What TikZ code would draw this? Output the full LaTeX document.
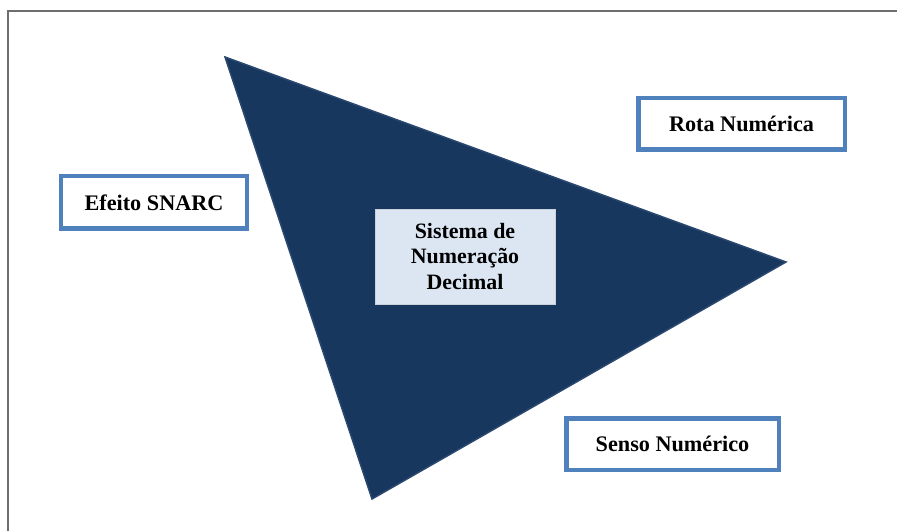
\documentclass[tikz,border=0pt]{standalone}
\usepackage{fontspec}
\setmainfont{Liberation Serif}
\definecolor{navy}{HTML}{17375E}
\definecolor{navyedge}{HTML}{2A4870}
\definecolor{boxblue}{HTML}{4F81BD}
\definecolor{paleblue}{HTML}{DCE6F2}
\definecolor{framegray}{HTML}{6E6E6E}
\begin{document}
\begin{tikzpicture}[x=1bp,y=-1bp,
  outerbox/.style={draw=boxblue,line width=4.5bp,fill=white,align=center,
    font=\fontsize{22.3}{25.5}\selectfont\bfseries,inner sep=0pt},
  centerbox/.style={draw=paleblue!80!gray,line width=0.6bp,fill=paleblue,align=center,
    font=\fontsize{22}{25.5}\selectfont\bfseries,inner sep=0pt,
    minimum width=180bp,minimum height=95bp}]
\useasboundingbox (0,0) rectangle (897,531);
% frame
\coordinate (ftl) at (8,11);
\coordinate (ftr) at (897,11);
\coordinate (fbl) at (8,531);
\draw[framegray,line width=1.2bp] (ftr) -- (ftl) -- (fbl);
% triangle
\coordinate (ta) at (225,57);
\coordinate (tb) at (786,262);
\coordinate (tc) at (372,499);
\filldraw[fill=navy,draw=navyedge,line width=1.5bp,line join=miter] (ta) -- (tb) -- (tc) -- cycle;
% boxes
\node[centerbox] (sis) at (465,256.5) {Sistema de\\Numeração\\Decimal};
\node[outerbox,minimum width=206.5bp,minimum height=51.5bp] (rota) at (741.5,124) {Rota Numérica};
\node[outerbox,minimum width=185.5bp,minimum height=52.5bp] (snarc) at (154,202.5) {Efeito SNARC};
\node[outerbox,minimum width=212.5bp,minimum height=51.5bp] (senso) at (672.5,444) {Senso Numérico};
\end{tikzpicture}
\end{document}
